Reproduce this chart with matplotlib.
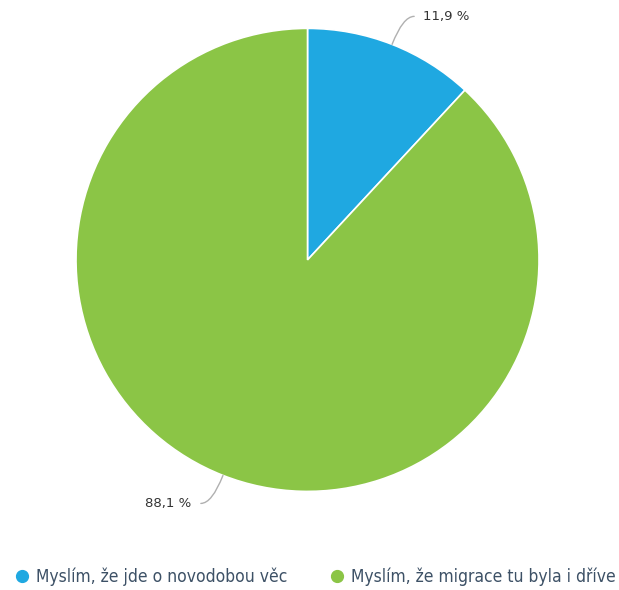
import numpy as np
import matplotlib.pyplot as plt
from matplotlib.lines import Line2D

labels = ["Myslím, že jde o novodobou věc", "Myslím, že migrace tu byla i dříve"]
values = [11.9, 88.1]
value_labels = ["11,9 %", "88,1 %"]
colors = ["#1fa8e1", "#8bc546"]

fig = plt.figure(figsize=(6.19, 5.90), dpi=100)
ax = fig.add_axes([0.1228, 0.167, 0.748, 0.785])

wedges, _ = ax.pie(values, colors=colors, startangle=90, counterclock=False,
                   radius=1.0, wedgeprops=dict(edgecolor="white", linewidth=1.2))
ax.set_xlim(-1, 1)
ax.set_ylim(-1, 1)
ax.set_aspect("equal")
ax.axis("off")

# leader lines + labels
for w, txt in zip(wedges, value_labels):
    mid = np.deg2rad((w.theta1 + w.theta2) / 2)
    x0, y0 = np.cos(mid), np.sin(mid)
    side = 1 if x0 > 0 else -1
    x1, y1 = 1.13 * x0 + 0.03 * side, 1.13 * y0
    x2 = x1 + 0.018 * side
    ax.annotate("", xy=(x0, y0), xytext=(x2, y1),
                arrowprops=dict(arrowstyle="-", color="#b0b0b0", lw=1.0,
                                shrinkA=0, shrinkB=0,
                                connectionstyle="angle3,angleA=0,angleB=%f" % np.rad2deg(mid)),
                annotation_clip=False)
    ax.text(x2 + 0.04 * side, y1, txt, ha="left" if side > 0 else "right",
            va="center", fontsize=9.5, color="#333333", clip_on=False)

handles = [Line2D([], [], marker="o", linestyle="none", markersize=8.5,
                  markerfacecolor=c, markeredgecolor=c) for c in colors]
leg = fig.legend(handles, labels, loc="center",
                 bbox_to_anchor=(0.5 + 6 / 619, (590 - 577) / 590),
                 ncol=2, frameon=False, handlelength=0.8, handletextpad=0.4,
                 columnspacing=2.5, borderpad=0, borderaxespad=0,
                 prop=dict(family="DejaVu Sans", stretch="condensed", size=12.5))
for t in leg.get_texts():
    t.set_color("#3d5166")

fig.savefig("out.png", dpi=100)
